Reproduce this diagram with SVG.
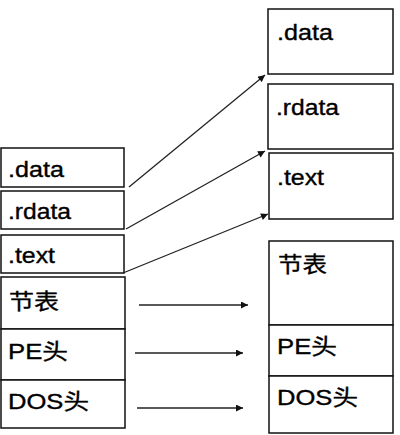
<svg xmlns="http://www.w3.org/2000/svg" width="400" height="435" viewBox="0 0 400 435">
<style>
.box{fill:#fff;stroke:#111;stroke-width:1.5}
.lbl{font-family:"Liberation Sans","Noto Sans CJK SC",Arial,sans-serif;font-size:22px;fill:#000;stroke:#000;stroke-width:0.35}
.con{stroke:#222;stroke-width:1.3;fill:none;marker-end:url(#ah)}
</style>
<defs>
<marker id="ah" viewBox="0 0 10 10" refX="10" refY="5" markerWidth="9" markerHeight="7" markerUnits="userSpaceOnUse" orient="auto">
<path d="M0,0 L10,5 L0,10 z" fill="#111"/>
</marker>
</defs>
<rect width="400" height="435" fill="#fff"/>
<g id="left-data"><rect class="box" x="1" y="148" width="123" height="39"/><text class="lbl" x="8" y="177" textLength="56" lengthAdjust="spacingAndGlyphs">.data</text></g>
<g id="left-rdata"><rect class="box" x="1" y="191" width="123" height="38"/><text class="lbl" x="8" y="219" textLength="63" lengthAdjust="spacingAndGlyphs">.rdata</text></g>
<g id="left-text"><rect class="box" x="1" y="235" width="123" height="38"/><text class="lbl" x="8" y="263" textLength="47" lengthAdjust="spacingAndGlyphs">.text</text></g>
<g id="left-sections"><rect class="box" x="1" y="277" width="124" height="52"/><text class="lbl" x="9" y="309" textLength="50" lengthAdjust="spacingAndGlyphs">节表</text></g>
<g id="left-pe"><rect class="box" x="1" y="329" width="124" height="51"/><text class="lbl" x="8" y="359" textLength="60" lengthAdjust="spacingAndGlyphs">PE头</text></g>
<g id="left-dos"><rect class="box" x="1" y="380" width="124" height="48"/><text class="lbl" x="8" y="409" textLength="81" lengthAdjust="spacingAndGlyphs">DOS头</text></g>
<g id="right-data"><rect class="box" x="268" y="9" width="125" height="65"/><text class="lbl" x="277" y="40" textLength="56" lengthAdjust="spacingAndGlyphs">.data</text></g>
<g id="right-rdata"><rect class="box" x="268" y="84" width="125" height="65"/><text class="lbl" x="276" y="115" textLength="63" lengthAdjust="spacingAndGlyphs">.rdata</text></g>
<g id="right-text"><rect class="box" x="269" y="153" width="124" height="66"/><text class="lbl" x="277" y="185" textLength="47" lengthAdjust="spacingAndGlyphs">.text</text></g>
<g id="right-sections"><rect class="box" x="269" y="241" width="124" height="84"/><text class="lbl" x="278" y="272" textLength="49" lengthAdjust="spacingAndGlyphs">节表</text></g>
<g id="right-pe"><rect class="box" x="269" y="325" width="124" height="51"/><text class="lbl" x="277" y="354" textLength="60" lengthAdjust="spacingAndGlyphs">PE头</text></g>
<g id="right-dos"><rect class="box" x="269" y="376" width="124" height="57"/><text class="lbl" x="277" y="405" textLength="81" lengthAdjust="spacingAndGlyphs">DOS头</text></g>
<g id="connectors">
<line class="con" x1="129" y1="187" x2="265" y2="75"/>
<line class="con" x1="126" y1="229" x2="265" y2="151"/>
<line class="con" x1="123" y1="273" x2="268" y2="214"/>
<line class="con" x1="139" y1="305" x2="248" y2="305"/>
<line class="con" x1="135" y1="353" x2="243" y2="353"/>
<line class="con" x1="137" y1="408" x2="243" y2="408"/>
</g>
</svg>
